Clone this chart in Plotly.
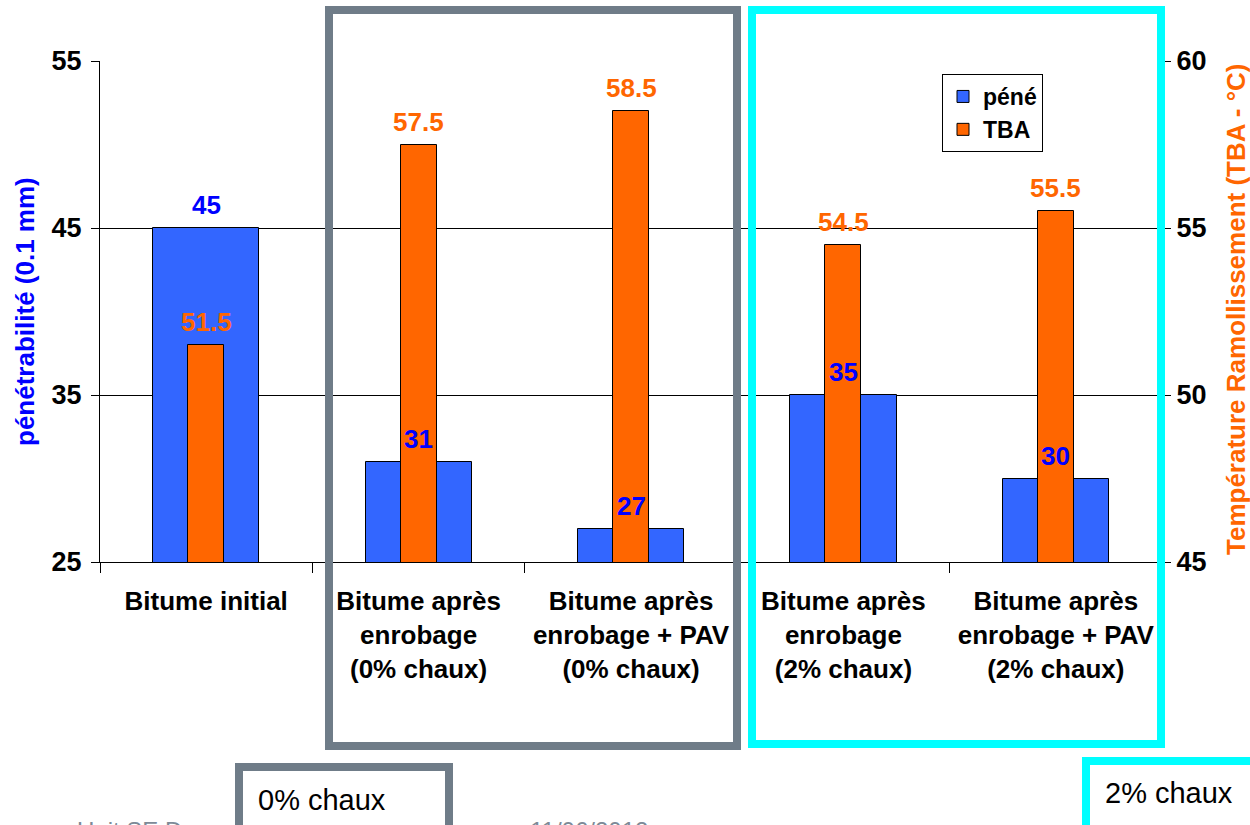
import plotly.graph_objects as go

# --- data -------------------------------------------------------------
categories = ["initial", "enrobage_0", "enrobage_pav_0", "enrobage_2", "enrobage_pav_2"]
tick_labels = [
    "Bitume initial",
    "Bitume après<br>enrobage<br>(0% chaux)",
    "Bitume après<br>enrobage + PAV<br>(0% chaux)",
    "Bitume après<br>enrobage<br>(2% chaux)",
    "Bitume après<br>enrobage + PAV<br>(2% chaux)",
]
pene = [45, 31, 27, 35, 30]          # pénétrabilité (0.1 mm)
tba = [51.5, 57.5, 58.5, 54.5, 55.5]  # température bille-anneau (°C)

# --- geometry (pixels of the 1250x825 page) ---------------------------
W, H = 1250, 825
L, R, T, B = 100, 1162, 61, 562


def px(x):
    return (x - L) / (R - L)


def py(y):
    return (B - y) / (B - T)


FONT = "Liberation Sans, Arial, sans-serif"
BLUE_BAR = "#3366FF"
ORANGE = "#FF6600"
BLUE_TXT = "#0000FF"
SLATE = "#6F7C88"
CYAN = "#00FFFF"

fig = go.Figure()
fig.add_trace(go.Bar(
    x=categories, y=pene, name="péné", yaxis="y",
    width=0.5, marker=dict(color=BLUE_BAR, line=dict(color="black", width=1)),
))
fig.add_trace(go.Bar(
    x=categories, y=tba, name="TBA", yaxis="y2",
    width=0.17, marker=dict(color=ORANGE, line=dict(color="black", width=1)),
))

annotations = []
# value labels
for c, v in zip(categories, pene):
    annotations.append(dict(x=c, y=v, xref="x", yref="y", text=f"{v:g}",
                            showarrow=False, yanchor="bottom", yshift=6,
                            font=dict(family=FONT, size=26, color=BLUE_TXT, weight="bold")))
for c, v in zip(categories, tba):
    annotations.append(dict(x=c, y=v, xref="x", yref="y2", text=f"{v:g}",
                            showarrow=False, yanchor="bottom", yshift=6,
                            font=dict(family=FONT, size=26, color=ORANGE, weight="bold")))

# axis titles
annotations.append(dict(x=px(25), y=py(312), xref="paper", yref="paper",
                        xanchor="center", yanchor="middle",
                        text="pénétrabilité (0.1 mm)", textangle=-90, showarrow=False,
                        font=dict(family=FONT, size=26, color=BLUE_TXT, weight="bold")))
annotations.append(dict(x=px(1236), y=py(309), xref="paper", yref="paper",
                        xanchor="center", yanchor="middle",
                        text="Température Ramollissement (TBA - °C)", textangle=-90,
                        showarrow=False,
                        font=dict(family=FONT, size=26, color=ORANGE, weight="bold")))

# footer line (partly hidden behind the boxes, cut by the page edge)
annotations.append(dict(x=px(75), y=py(815), xref="paper", yref="paper",
                        text="Unit SE D", showarrow=False, xanchor="left", yanchor="top",
                        font=dict(family=FONT, size=24, color="#7D8A97")))
annotations.append(dict(x=px(528), y=py(815), xref="paper", yref="paper",
                        text="11/06/2012", showarrow=False, xanchor="left", yanchor="top",
                        font=dict(family=FONT, size=24, color="#7D8A97")))

# box captions
annotations.append(dict(x=px(256), y=py(800), xref="paper", yref="paper",
                        text="0% chaux", showarrow=False, xanchor="left", yanchor="middle",
                        font=dict(family=FONT, size=29, color="black")))
annotations.append(dict(x=px(1103), y=py(793), xref="paper", yref="paper",
                        text="2% chaux", showarrow=False, xanchor="left", yanchor="middle",
                        font=dict(family=FONT, size=29, color="black")))

shapes = [
    # group frames
    dict(type="rect", xref="paper", yref="paper", layer="above",
         x0=px(329), x1=px(737), y0=py(746), y1=py(10),
         line=dict(color=SLATE, width=8)),
    dict(type="rect", xref="paper", yref="paper", layer="above",
         x0=px(752), x1=px(1161), y0=py(744), y1=py(10),
         line=dict(color=CYAN, width=8)),
    # caption boxes
    dict(type="rect", xref="paper", yref="paper", layer="above",
         x0=px(239), x1=px(449), y0=py(850), y1=py(767),
         line=dict(color=SLATE, width=8), fillcolor="white"),
    dict(type="rect", xref="paper", yref="paper", layer="above",
         x0=px(1086), x1=px(1270), y0=py(850), y1=py(761),
         line=dict(color=CYAN, width=8), fillcolor="white"),
]

fig.update_layout(
    width=W, height=H,
    margin=dict(l=L, r=W - R, t=T, b=H - B),
    paper_bgcolor="white", plot_bgcolor="white",
    barmode="overlay", bargap=0,
    showlegend=True,
    legend=dict(x=px(942), y=py(74), xanchor="left", yanchor="top",
                bgcolor="white", bordercolor="black", borderwidth=1,
                font=dict(family=FONT, size=23, color="black", weight="bold"),
                itemwidth=30),
    xaxis=dict(type="category", categoryorder="array", categoryarray=categories,
               tickmode="array", tickvals=categories, ticktext=tick_labels,
               tickson="boundaries", ticks="outside", ticklen=10, tickcolor="black",
               ticklabelstandoff=16,
               showline=True, linecolor="black", linewidth=1,
               showgrid=False, zeroline=False,
               tickfont=dict(family=FONT, size=26, color="black", weight="bold")),
    yaxis=dict(range=[25, 55], tickmode="array", tickvals=[25, 35, 45, 55],
               ticks="outside", ticklen=8, tickcolor="black", ticklabelstandoff=4,
               showline=True, linecolor="black", linewidth=1,
               showgrid=True, gridcolor="black", gridwidth=1, zeroline=False,
               tickfont=dict(family=FONT, size=27, color="black", weight="bold")),
    yaxis2=dict(range=[45, 60], tickmode="array", tickvals=[45, 50, 55, 60],
                overlaying="y", side="right",
                ticks="outside", ticklen=8, tickcolor="black",
                showline=True, linecolor="black", linewidth=1,
                showgrid=False, zeroline=False,
                tickfont=dict(family=FONT, size=27, color="black", weight="bold")),
    annotations=annotations,
    shapes=shapes,
)

fig.write_html("out.html")
